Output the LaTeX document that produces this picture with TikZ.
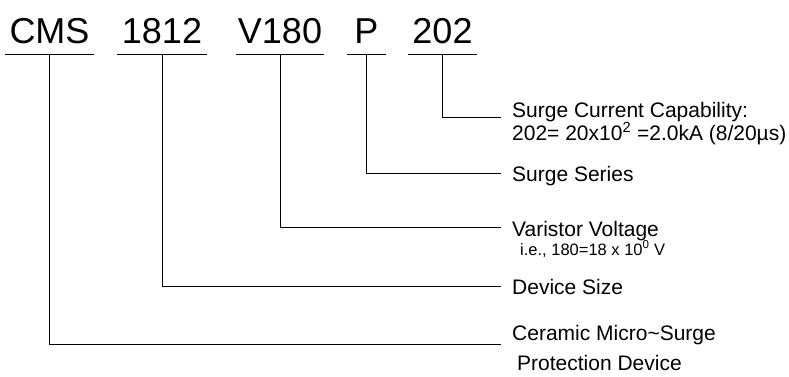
\documentclass[tikz,border=0pt]{standalone}
\usepackage{fontspec}
\setmainfont{Liberation Sans}
\usepackage{tikz}
\usetikzlibrary{positioning, calc}

\begin{document}
\begin{tikzpicture}[
    x=1pt, y=-1pt,
    part/.style={font=\fontsize{36}{36}\selectfont, anchor=base, inner xsep=0pt, inner ysep=11pt, text height=26pt, text depth=0pt},
    desc/.style={font=\fontsize{21}{25}\selectfont, anchor=base west, inner sep=0pt, text height=15pt, text depth=0pt},
    note/.style={font=\fontsize{16.5}{20}\selectfont, anchor=base west, inner sep=0pt},
    link/.style={line width=1pt}
]
\useasboundingbox (0,0) rectangle (789,376);

% code parts
\node[part, minimum width=89pt] (cms) at (49.5,43) {CMS};
\node[part, minimum width=89pt] (size) at (162,43) {1812};
\node[part, minimum width=88pt] (volt) at (280,43) {V180};
\node[part, minimum width=39pt] (ser) at (366.5,43) {P};
\node[part, minimum width=69pt] (cur) at (442.5,43) {202};

\foreach \p in {cms, size, volt, ser, cur}
    \draw[link] (\p.south west) -- (\p.south east);

% descriptions
\node[desc] (dcur) at (512,117) {Surge Current Capability:};
\node[desc] (dcur2) at ([yshift=-23pt]dcur.base west) {202= 20x10\textsuperscript{2} =2.0kA (8/20µs)};
\node[desc] (dser) at (512,181) {Surge Series};
\node[desc] (dvolt) at (512,236) {Varistor Voltage};
\node[note] (dvolt2) at ([xshift=8pt,yshift=-19pt]dvolt.base west) {i.e., 180=18 x 10\textsuperscript{0} V};
\node[desc] (dsize) at (512,294) {Device Size};
\node[desc] (dcms) at (512,340) {Ceramic Micro\textasciitilde Surge};
\node[desc] (dcms2) at ([xshift=5pt,yshift=-30pt]dcms.base west) {Protection Device};

% leaders
\draw[link] (cur.south) |- ([xshift=-11pt]dcur.base west);
\draw[link] (ser.south) |- ([xshift=-11pt]dser.west);
\draw[link] (volt.south) |- ([xshift=-11pt,yshift=1pt]dvolt.west);
\draw[link] (size.south) |- ([xshift=-11pt]dsize.west);
\draw[link] (cms.south) |- ([xshift=-11pt,yshift=-4pt]dcms.base west);

\end{tikzpicture}
\end{document}
